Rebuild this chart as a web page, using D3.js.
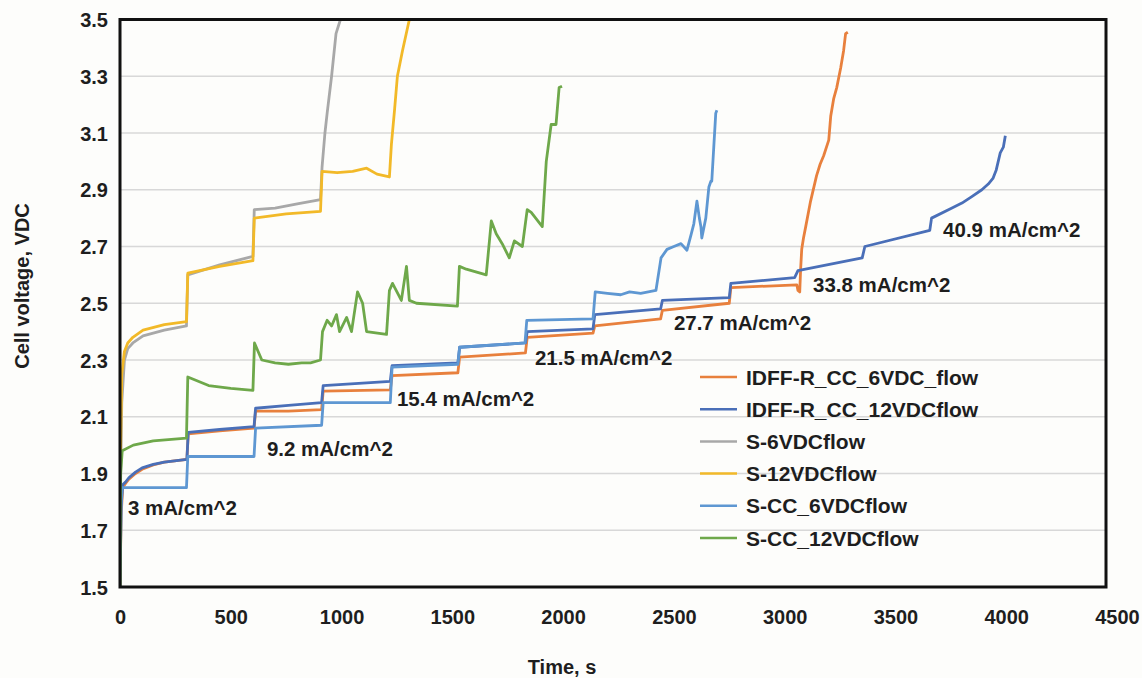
<!DOCTYPE html>
<html>
<head>
<script src="https://d3js.org/d3.v7.min.js"></script>
<style>
  body { margin: 0; background-color: #fdfdfb; font-family: "Liberation Sans", Arial, sans-serif; }
  svg text { font-weight: bold; fill: #1e1e1e; font-family: "Liberation Sans", Arial, sans-serif; }
</style>
</head>
<body>
<div class="chart"></div>
<script>
// series names and colours, same order as legend
var seriesNames = ["IDFF-R_CC_6VDC_flow", "IDFF-R_CC_12VDCflow", "S-6VDCflow", "S-12VDCflow", "S-CC_6VDCflow", "S-CC_12VDCflow"];
var seriesColors = ["#e8803d", "#4a6fb8", "#a8a8a8", "#f2b928", "#5e97d2", "#6ea84a"];

// [time s, voltage V]
var idffCC6 = [[0,1.5],[5,1.75],[12,1.85],[25,1.865],[40,1.88],[70,1.9],[100,1.915],[150,1.93],[200,1.94],[302,1.95],[308,2.04],[450,2.05],[605,2.06],[612,2.12],[760,2.12],[910,2.125],[917,2.19],[1220,2.195],[1228,2.245],[1525,2.255],[1533,2.31],[1830,2.325],[1838,2.38],[2135,2.395],[2143,2.42],[2440,2.445],[2448,2.475],[2750,2.5],[2757,2.555],[3055,2.565],[3060,2.545],[3068,2.54],[3072,2.62],[3077,2.69],[3085,2.73],[3095,2.77],[3117,2.86],[3144,2.95],[3160,2.99],[3176,3.02],[3199,3.075],[3208,3.16],[3221,3.22],[3235,3.26],[3253,3.33],[3266,3.39],[3275,3.45],[3285,3.455]];
var idffCC12 = [[0,1.5],[5,1.78],[12,1.86],[25,1.87],[40,1.885],[70,1.905],[100,1.92],[150,1.932],[200,1.94],[302,1.95],[308,2.045],[450,2.055],[605,2.065],[612,2.13],[760,2.14],[910,2.15],[917,2.21],[1220,2.225],[1228,2.28],[1525,2.29],[1533,2.345],[1830,2.36],[1838,2.4],[2135,2.41],[2143,2.46],[2440,2.48],[2448,2.51],[2750,2.52],[2757,2.57],[3045,2.59],[3060,2.615],[3350,2.66],[3362,2.7],[3655,2.757],[3663,2.8],[3753,2.835],[3800,2.853],[3843,2.875],[3890,2.9],[3919,2.92],[3940,2.94],[3955,2.97],[3973,3.03],[3987,3.05],[3996,3.09]];
var s6 = [[0,1.5],[3,1.9],[8,2.15],[20,2.3],[35,2.34],[58,2.36],[104,2.385],[200,2.405],[300,2.42],[306,2.6],[450,2.635],[600,2.665],[606,2.83],[700,2.835],[800,2.85],[905,2.865],[912,2.98],[925,3.1],[935,3.17],[955,3.3],[975,3.45],[995,3.5]];
var s12 = [[0,1.5],[3,2.0],[8,2.25],[20,2.33],[35,2.36],[58,2.38],[104,2.405],[200,2.425],[300,2.435],[306,2.606],[450,2.63],[600,2.65],[606,2.8],[750,2.815],[905,2.824],[912,2.965],[980,2.96],[1050,2.965],[1113,2.976],[1160,2.955],[1216,2.945],[1225,3.06],[1239,3.18],[1252,3.3],[1275,3.39],[1306,3.5]];
var sCC6 = [[0,1.5],[5,1.8],[10,1.85],[300,1.85],[306,1.96],[605,1.96],[612,2.06],[910,2.07],[917,2.15],[1220,2.15],[1228,2.275],[1525,2.285],[1533,2.345],[1828,2.36],[1836,2.44],[2135,2.445],[2145,2.54],[2200,2.535],[2260,2.53],[2300,2.54],[2350,2.535],[2419,2.545],[2442,2.66],[2469,2.69],[2500,2.7],[2532,2.71],[2559,2.687],[2577,2.74],[2590,2.78],[2604,2.86],[2615,2.8],[2622,2.77],[2626,2.73],[2644,2.8],[2658,2.91],[2667,2.93],[2671,2.93],[2680,3.05],[2689,3.17],[2694,3.18]];
var sCC12 = [[0,1.5],[3,1.9],[10,1.98],[60,2.0],[150,2.015],[300,2.025],[306,2.24],[400,2.21],[500,2.2],[600,2.193],[607,2.36],[640,2.3],[700,2.29],[760,2.285],[820,2.29],[860,2.29],[905,2.3],[914,2.4],[935,2.44],[955,2.42],[977,2.46],[991,2.4],[1023,2.45],[1045,2.4],[1072,2.54],[1095,2.5],[1113,2.4],[1203,2.39],[1216,2.545],[1230,2.57],[1250,2.54],[1270,2.51],[1293,2.63],[1306,2.51],[1338,2.5],[1523,2.49],[1532,2.63],[1563,2.62],[1653,2.6],[1676,2.79],[1698,2.745],[1725,2.71],[1757,2.66],[1780,2.72],[1816,2.7],[1838,2.83],[1856,2.82],[1906,2.77],[1924,3.0],[1946,3.13],[1968,3.13],[1982,3.26],[1995,3.265]];
var allSeries = [idffCC6, idffCC12, s6, s12, sCC6, sCC12];

var xTicks = [0, 500, 1000, 1500, 2000, 2500, 3000, 3500, 4000, 4500];
var yTicks = [1.5, 1.7, 1.9, 2.1, 2.3, 2.5, 2.7, 2.9, 3.1, 3.3, 3.5];

// current density notes
var noteLabels = ["3 mA/cm^2", "9.2 mA/cm^2", "15.4 mA/cm^2", "21.5 mA/cm^2", "27.7 mA/cm^2", "33.8 mA/cm^2", "40.9 mA/cm^2"];
var noteTimes = [36, 663, 1250, 1873, 2500, 3128, 3715];
var noteVolts = [1.778, 1.986, 2.163, 2.307, 2.43, 2.564, 2.758];

var width = 1142, height = 678;
var plot = { left: 120, right: 1106, top: 19.5, bottom: 587 };

var svg = d3.select('.chart').append('svg')
    .attr('width', width)
    .attr('height', height);

var x = d3.scaleLinear().domain([0, 4500]).range([plot.left, 1117]);
var y = d3.scaleLinear().domain([1.5, 3.5]).range([plot.bottom, plot.top]);

// gridlines
svg.append('g')
    .selectAll('line')
    .data(yTicks.slice(1, -1))
    .enter().append('line')
    .attr('x1', plot.left).attr('x2', plot.right)
    .attr('y1', function(d) { return y(d); })
    .attr('y2', function(d) { return y(d); })
    .attr('stroke', '#d8d8d8')
    .attr('stroke-width', 1.5);

// axes (labels only)
var yAxis = svg.append('g')
    .attr('transform', 'translate(' + plot.left + ',0)')
    .call(d3.axisLeft(y).tickValues(yTicks).tickFormat(d3.format('.1f')).tickSize(0).tickPadding(12));
var xAxis = svg.append('g')
    .attr('transform', 'translate(0,' + plot.bottom + ')')
    .call(d3.axisBottom(x).tickValues(xTicks).tickFormat(d3.format('d')).tickSize(0).tickPadding(23));
[yAxis, xAxis].forEach(function(a) {
    a.select('.domain').remove();
    a.selectAll('text')
        .style('font-size', '20px')
        .style('font-family', '"Liberation Sans", Arial, sans-serif')
        .style('font-weight', 'bold')
        .attr('fill', '#1e1e1e');
});
yAxis.selectAll('text').attr('dy', '0.36em');

svg.append('clipPath').attr('id', 'clip')
    .append('rect')
    .attr('x', plot.left).attr('y', plot.top)
    .attr('width', plot.right - plot.left).attr('height', plot.bottom - plot.top);

var line = d3.line()
    .x(function(d) { return x(d[0]); })
    .y(function(d) { return y(d[1]); });

svg.append('g').attr('clip-path', 'url(#clip)')
    .selectAll('path')
    .data(allSeries)
    .enter().append('path')
    .attr('d', line)
    .attr('fill', 'none')
    .attr('stroke', function(d, i) { return seriesColors[i]; })
    .attr('stroke-width', 2.8)
    .attr('stroke-linejoin', 'round');

// frame
svg.append('rect')
    .attr('x', plot.left).attr('y', plot.top)
    .attr('width', plot.right - plot.left).attr('height', plot.bottom - plot.top)
    .attr('fill', 'none')
    .attr('stroke', '#111')
    .attr('stroke-width', 3);

// notes
svg.append('g').selectAll('text')
    .data(noteLabels)
    .enter().append('text')
    .attr('x', function(d, i) { return x(noteTimes[i]); })
    .attr('y', function(d, i) { return y(noteVolts[i]); })
    .attr('dy', '0.36em')
    .style('font-size', '20.5px')
    .text(function(d) { return d; });

// legend
var legend = svg.append('g').selectAll('g')
    .data(seriesNames)
    .enter().append('g')
    .attr('transform', function(d, i) { return 'translate(700,' + (377 + i * 32.2) + ')'; });
legend.append('line')
    .attr('x1', 0).attr('x2', 37)
    .attr('stroke', function(d, i) { return seriesColors[i]; })
    .attr('stroke-width', 2.5);
legend.append('text')
    .attr('x', 46)
    .attr('dy', '0.36em')
    .style('font-size', '21px')
    .text(function(d) { return d; });

// axis titles
svg.append('text')
    .attr('transform', 'translate(29,286) rotate(-90)')
    .attr('text-anchor', 'middle')
    .style('font-size', '20px')
    .text('Cell voltage, VDC');
svg.append('text')
    .attr('x', 562).attr('y', 674)
    .attr('text-anchor', 'middle')
    .style('font-size', '20px')
    .text('Time, s');
</script>
</body>
</html>
